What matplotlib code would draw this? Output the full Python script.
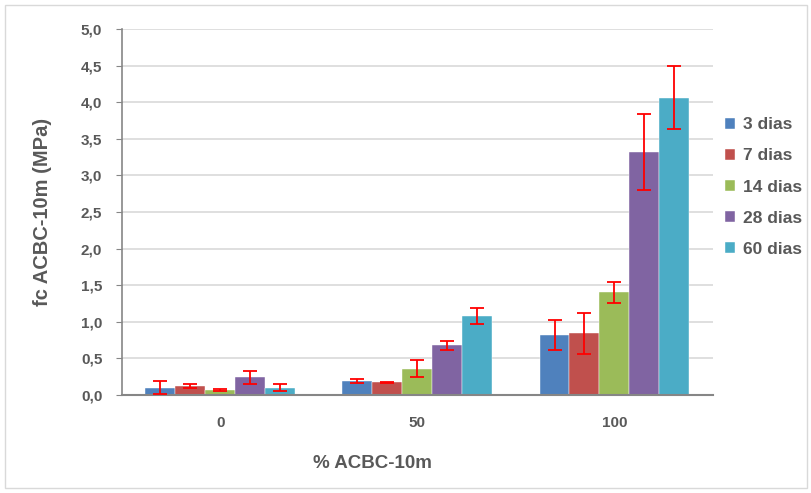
import matplotlib.pyplot as plt
import numpy as np
from matplotlib.patches import Rectangle

groups = ["0", "50", "100"]
series = ["3 dias", "7 dias", "14 dias", "28 dias", "60 dias"]
colors = ["#4F81BD", "#C0504D", "#9BBB59", "#8064A2", "#4BACC6"]

d3 = [0.10, 0.19, 0.82]
d7 = [0.12, 0.17, 0.84]
d14 = [0.07, 0.36, 1.40]
d28 = [0.24, 0.68, 3.32]
d60 = [0.10, 1.08, 4.06]

e3 = [0.09, 0.03, 0.20]
e7 = [0.03, 0.01, 0.28]
e14 = [0.01, 0.12, 0.14]
e28 = [0.09, 0.06, 0.52]
e60 = [0.05, 0.11, 0.43]

values = [d3, d7, d14, d28, d60]
errors = [e3, e7, e14, e28, e60]

plt.rcParams["font.family"] = ["Liberation Sans", "DejaVu Sans"]
text_color = "#595959"

fig = plt.figure(figsize=(8.12, 4.93), dpi=100)
ax = fig.add_axes([0.150, 0.199, 0.728, 0.742])

x = np.arange(len(groups))
width = 0.152
for i, (vals, errs) in enumerate(zip(values, errors)):
    pos = x + (i - 2) * width
    ax.bar(pos, vals, width=width, color=colors[i], label=series[i], zorder=2,
           edgecolor="white", linewidth=0.3)
    ax.errorbar(pos, vals, yerr=errs, fmt="none", ecolor="#FF0000",
                elinewidth=1.3, capsize=5, capthick=1.3, zorder=3)

ax.set_xlim(-0.5, 2.5)
ax.set_ylim(0, 5.0)
ax.set_yticks(np.arange(0, 5.01, 0.5))
ax.set_yticklabels([f"{v:.1f}".replace(".", ",") for v in np.arange(0, 5.01, 0.5)])
ax.set_xticks(x)
ax.set_xticklabels(groups)

ax.grid(True, axis="y", color="#D9D9D9", linewidth=1.2, zorder=0)
ax.set_axisbelow(True)
for s in ["top", "right"]:
    ax.spines[s].set_visible(False)
ax.spines["left"].set_color("#868686")
ax.spines["bottom"].set_color("#868686")
ax.spines["left"].set_linewidth(1.2)
ax.spines["bottom"].set_linewidth(1.5)

ax.tick_params(axis="y", length=4, color="#868686", labelsize=11, labelcolor=text_color, pad=10)
ax.tick_params(axis="x", length=0, labelsize=11, labelcolor=text_color, pad=15)
for lab in ax.get_xticklabels() + ax.get_yticklabels():
    lab.set_fontweight("bold")

ax.set_ylabel("fc ACBC-10m (MPa)", fontsize=14.5, fontweight="bold", color=text_color, labelpad=21)
fig.text(372 / 812, 1 - 463 / 493, "% ACBC-10m", ha="center", va="center",
         fontsize=13.5, fontweight="bold", color=text_color)

leg = ax.legend(loc="center left", bbox_to_anchor=(0.994, 0.568), frameon=False,
                handlelength=0.6, handleheight=0.6, handletextpad=0.45, labelspacing=0.93,
                prop={"size": 12.5, "weight": "bold"})
for t in leg.get_texts():
    t.set_color(text_color)

fig.patches.append(Rectangle((5 / 812, 5 / 493), 1 - 10 / 812, 1 - 10 / 493,
                             transform=fig.transFigure, fill=False,
                             edgecolor="#D9D9D9", linewidth=1))

fig.savefig("out.png", dpi=100)
